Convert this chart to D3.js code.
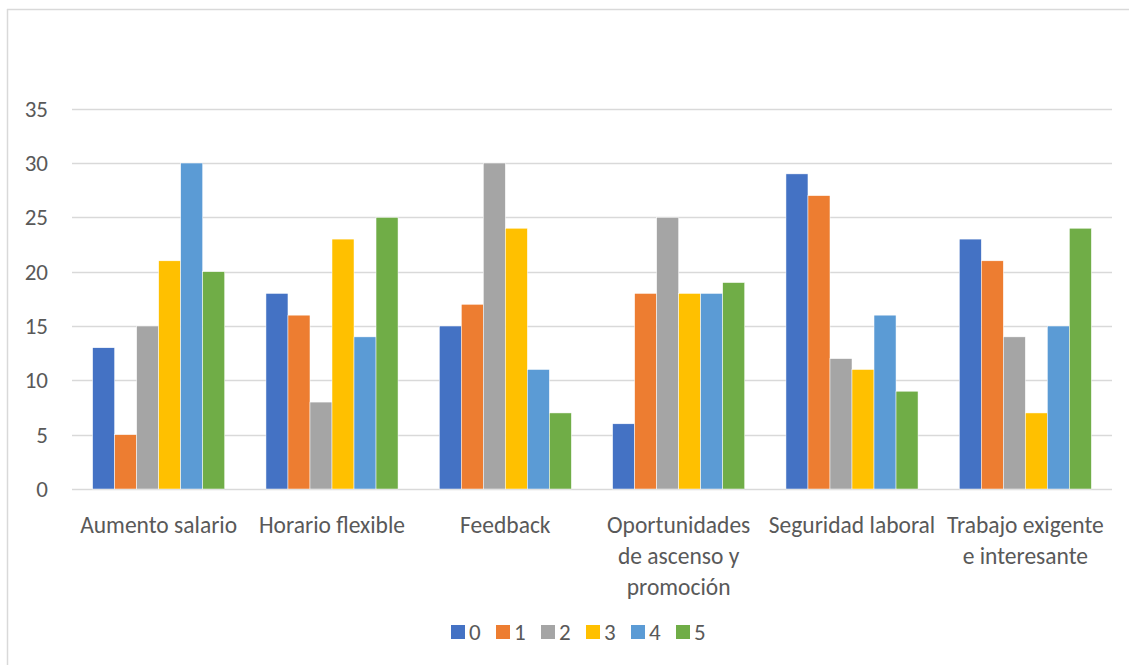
<!DOCTYPE html>
<html><head><meta charset="utf-8">
<script src="https://cdn.jsdelivr.net/npm/d3@7"></script>
<style>
html,body{margin:0;padding:0;background:#fff;}
svg{display:block;}
text{font-family:Carlito,Calibri,Lato,"Open Sans",sans-serif;fill:#595959;}
</style></head>
<body>
<svg id="c" width="1129" height="665"></svg>
<script>
const categories = [["Aumento salario"],["Horario flexible"],["Feedback"],["Oportunidades","de ascenso y","promoción"],["Seguridad laboral"],["Trabajo exigente","e interesante"]];
const seriesNames = ["0","1","2","3","4","5"];
const s0 = [13,18,15,6,29,23];
const s1 = [5,16,17,18,27,21];
const s2 = [15,8,30,25,12,14];
const s3 = [21,23,24,18,11,7];
const s4 = [30,14,11,18,16,15];
const s5 = [20,25,7,19,9,24];
const yTicks = [0,5,10,15,20,25,30,35];
const colors = ["#4472C4","#ED7D31","#A5A5A5","#FFC000","#5B9BD5","#70AD47"];
const series = [s0,s1,s2,s3,s4,s5];

const svg = d3.select("#c");
// frame (left & top edges)
svg.append("line").attr("x1",7.5).attr("x2",7.5).attr("y1",9).attr("y2",665).attr("stroke","#d9d9d9").attr("stroke-width",1.5);
svg.append("line").attr("x1",7).attr("x2",1129).attr("y1",9.5).attr("y2",9.5).attr("stroke","#d9d9d9").attr("stroke-width",1.5);

const L=72, R=1112, T=108.7, B=489;
const x = d3.scaleBand().domain(d3.range(categories.length)).range([L,R]).paddingInner(0.238).paddingOuter(0.119);
const xs = d3.scaleBand().domain(d3.range(seriesNames.length)).range([0,x.bandwidth()]).padding(0);
const y = d3.scaleLinear().domain([0,35]).range([B,T]);

// grid
svg.append("g").selectAll("line").data(yTicks).join("line")
  .attr("x1",L).attr("x2",R).attr("y1",d=>Math.round(y(d))+0.5).attr("y2",d=>Math.round(y(d))+0.5)
  .attr("stroke","#d9d9d9").attr("stroke-width",1.3);

// y labels
svg.append("g").selectAll("text").data(yTicks).join("text")
  .attr("x",48).attr("y",d=>y(d)).attr("dy","0.35em").attr("text-anchor","end")
  .style("font-size","23px").text(d=>d);

// bars
const g = svg.append("g");
series.forEach((vals,si)=>{
  g.append("g").selectAll("rect").data(vals).join("rect")
    .attr("x",(d,i)=>x(i)+xs(si)).attr("width",xs.bandwidth())
    .attr("y",d=>y(d)).attr("height",d=>y(0)-y(d))
    .attr("fill",colors[si]).attr("stroke","#fff").attr("stroke-width",0.5);
});

// x labels
const xl = svg.append("g");
categories.forEach((lines,i)=>{
  const cx = x(i)+x.bandwidth()/2;
  const t = xl.append("text").attr("text-anchor","middle").style("font-size","23.5px");
  lines.forEach((ln,j)=>{
    t.append("tspan").attr("x",cx).attr("y",525+j*31).attr("dy","0.35em").text(ln);
  });
});

// legend
const lg = svg.append("g");
seriesNames.forEach((n,i)=>{
  const lx = 451 + i*45;
  lg.append("rect").attr("x",lx).attr("y",625).attr("width",14).attr("height",14).attr("fill",colors[i]);
  lg.append("text").attr("x",lx+18).attr("y",632).attr("dy","0.35em").style("font-size","23px").text(n);
});
</script>
</body></html>
